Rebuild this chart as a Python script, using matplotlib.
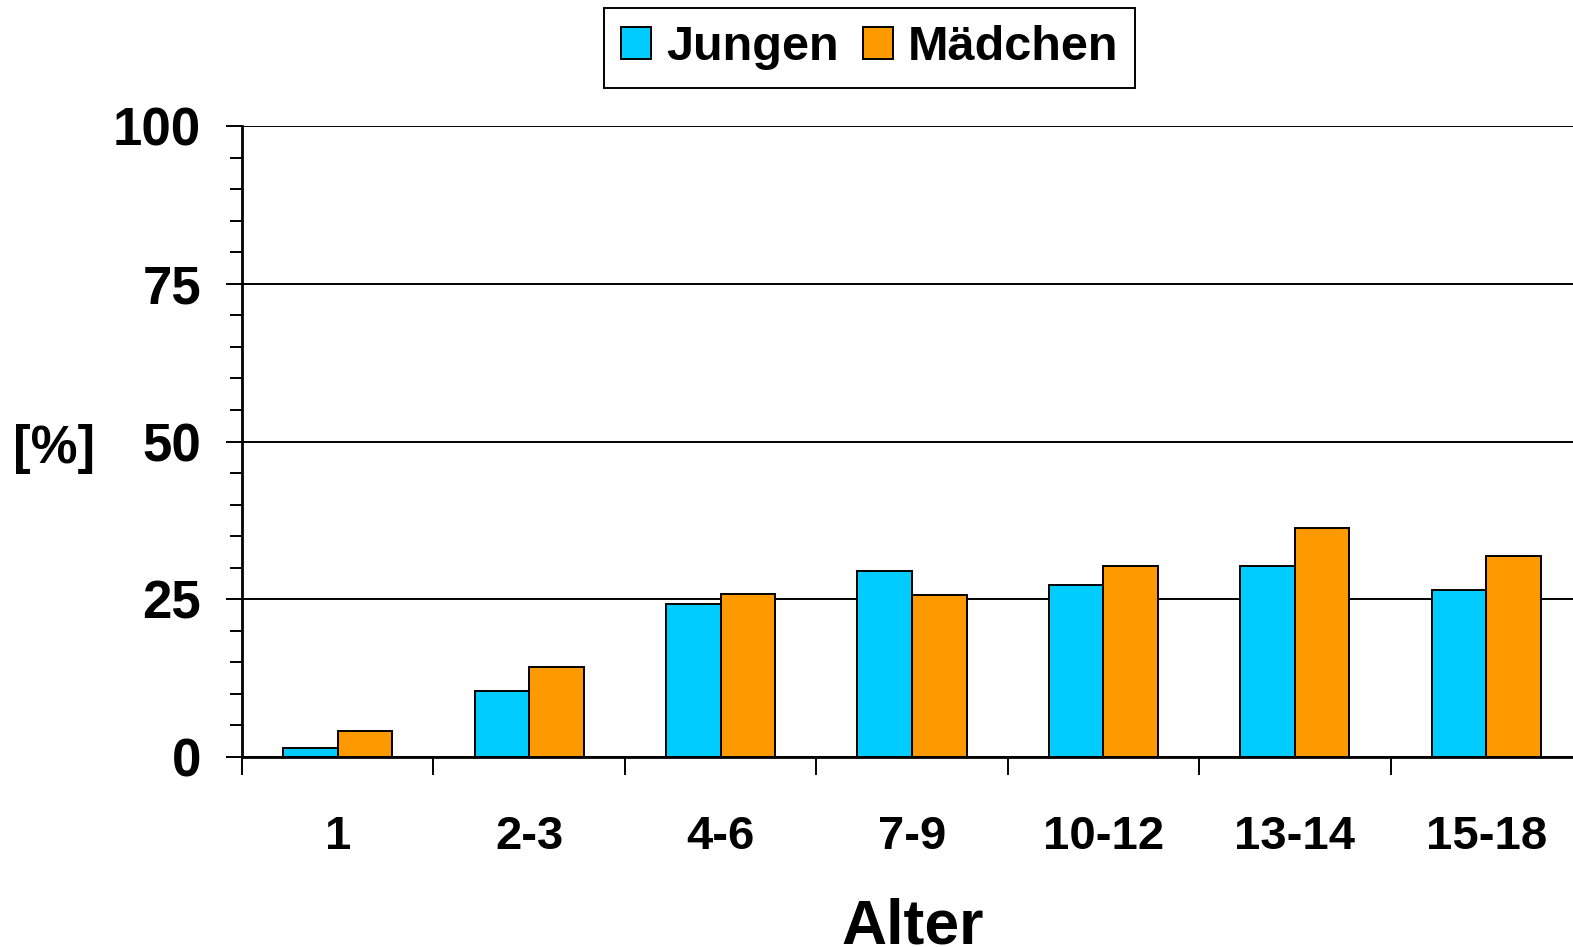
import matplotlib
matplotlib.use('Agg')
import matplotlib.pyplot as plt
import numpy as np
from matplotlib.ticker import MultipleLocator, FixedLocator, NullFormatter

# data
altersgruppen = ['1', '2-3', '4-6', '7-9', '10-12', '13-14', '15-18']
jungen = [1.5, 10.4, 24.3, 29.4, 27.2, 30.3, 26.5]
maedchen = [4.1, 14.2, 25.8, 25.6, 30.3, 36.3, 31.9]
serien = ['Jungen', 'Mädchen']
farben = ['#00CCFF', '#FF9900']

plt.rcParams['font.family'] = ['Liberation Sans', 'DejaVu Sans']
plt.rcParams['font.weight'] = 'bold'

fig = plt.figure(figsize=(15.73, 9.47), dpi=100)
ax = fig.add_axes([242 / 1573, 1 - 757 / 947, 1340 / 1573, 631 / 947])

x = np.arange(len(altersgruppen))
breite = 0.285
ax.bar(x - breite / 2, jungen, breite, color=farben[0], edgecolor='black',
       linewidth=1.4, label=serien[0], zorder=3)
ax.bar(x + breite / 2, maedchen, breite, color=farben[1], edgecolor='black',
       linewidth=1.4, label=serien[1], zorder=3)

ax.set_xlim(-0.5, len(altersgruppen) - 0.5)
ax.set_ylim(0, 100)

# y axis
ax.yaxis.set_major_locator(MultipleLocator(25))
ax.yaxis.set_minor_locator(MultipleLocator(5))
ax.tick_params(axis='y', which='major', direction='out', length=11.5, width=1.4,
               pad=18, labelsize=38)
ax.tick_params(axis='y', which='minor', direction='out', length=8.6, width=1.4)
ax.yaxis.grid(True, which='major', color='black', linewidth=1.4, zorder=1)

# x axis: marks between groups, labels in the middle
ax.xaxis.set_major_locator(FixedLocator(np.arange(-0.5, len(altersgruppen) + 0.5, 1)))
ax.xaxis.set_major_formatter(NullFormatter())
ax.xaxis.set_minor_locator(FixedLocator(x))
ax.set_xticklabels(altersgruppen, minor=True)
ax.tick_params(axis='x', which='major', direction='out', length=13, width=1.4)
ax.tick_params(axis='x', which='minor', length=0, pad=42, labelsize=34)

for s in ['top', 'right']:
    ax.spines[s].set_visible(False)
for s in ['left', 'bottom']:
    ax.spines[s].set_linewidth(2)
    ax.spines[s].set_zorder(4)

fig.text(54 / 1573, 1 - 449 / 947, '[%]', fontsize=38, fontweight='bold',
         ha='center', va='center')
fig.text(913 / 1573, 1 - 943 / 947, 'Alter', fontsize=45, fontweight='bold',
         ha='center', va='baseline')

leg = fig.legend(loc='center', bbox_to_anchor=(869.5 / 1573, 1 - 48 / 947), ncol=2,
                 fontsize=35, frameon=True, fancybox=False, edgecolor='black',
                 framealpha=1, handlelength=0.63, handleheight=0.63,
                 handletextpad=0.3, columnspacing=0.5, borderpad=0.35,
                 borderaxespad=0)
leg.get_frame().set_linewidth(1.4)
for h in leg.legend_handles:
    h.set_linewidth(1.4)

fig.savefig('out.png', dpi=100)
